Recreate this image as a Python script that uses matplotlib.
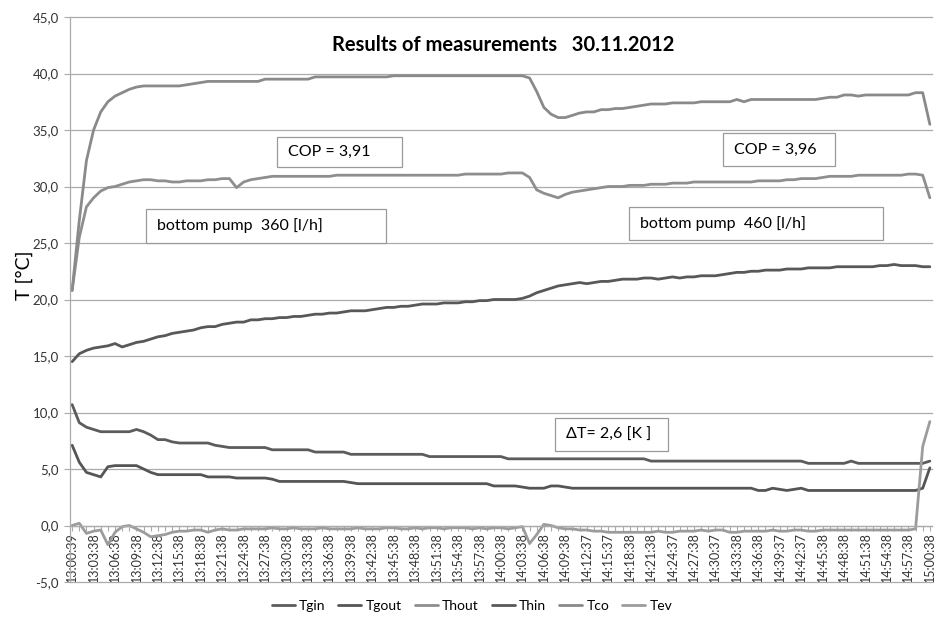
import matplotlib.pyplot as plt
from matplotlib.patches import Rectangle
from matplotlib.ticker import FuncFormatter

plt.rcParams['font.family'] = ['Lato', 'DejaVu Sans']

W, H = 935, 618

# one reading per minute, 13:00:39 .. 15:00:38; axis labelled every 3rd reading
time_labels = [
    '13:00:39', '13:03:38', '13:06:38', '13:09:38', '13:12:38', '13:15:38',
    '13:18:38', '13:21:38', '13:24:38', '13:27:38', '13:30:38', '13:33:38',
    '13:36:38', '13:39:38', '13:42:38', '13:45:38', '13:48:38', '13:51:38',
    '13:54:38', '13:57:38', '14:00:38', '14:03:38', '14:06:38', '14:09:38',
    '14:12:37', '14:15:37', '14:18:38', '14:21:38', '14:24:37', '14:27:38',
    '14:30:37', '14:33:38', '14:36:38', '14:39:37', '14:42:37', '14:45:38',
    '14:48:38', '14:51:38', '14:54:38', '14:57:38', '15:00:38',
]

Tgin = [
    10.7, 9.1, 8.7, 8.5, 8.3, 8.3, 8.3, 8.3, 8.3, 8.5,
    8.3, 8.0, 7.6, 7.6, 7.4, 7.3, 7.3, 7.3, 7.3, 7.3,
    7.1, 7.0, 6.9, 6.9, 6.9, 6.9, 6.9, 6.9, 6.7, 6.7,
    6.7, 6.7, 6.7, 6.7, 6.5, 6.5, 6.5, 6.5, 6.5, 6.3,
    6.3, 6.3, 6.3, 6.3, 6.3, 6.3, 6.3, 6.3, 6.3, 6.3,
    6.1, 6.1, 6.1, 6.1, 6.1, 6.1, 6.1, 6.1, 6.1, 6.1,
    6.1, 5.9, 5.9, 5.9, 5.9, 5.9, 5.9, 5.9, 5.9, 5.9,
    5.9, 5.9, 5.9, 5.9, 5.9, 5.9, 5.9, 5.9, 5.9, 5.9,
    5.9, 5.7, 5.7, 5.7, 5.7, 5.7, 5.7, 5.7, 5.7, 5.7,
    5.7, 5.7, 5.7, 5.7, 5.7, 5.7, 5.7, 5.7, 5.7, 5.7,
    5.7, 5.7, 5.7, 5.5, 5.5, 5.5, 5.5, 5.5, 5.5, 5.7,
    5.5, 5.5, 5.5, 5.5, 5.5, 5.5, 5.5, 5.5, 5.5, 5.5,
    5.7,
]

Tgout = [
    7.1, 5.6, 4.7, 4.5, 4.3, 5.2, 5.3, 5.3, 5.3, 5.3,
    5.0, 4.7, 4.5, 4.5, 4.5, 4.5, 4.5, 4.5, 4.5, 4.3,
    4.3, 4.3, 4.3, 4.2, 4.2, 4.2, 4.2, 4.2, 4.1, 3.9,
    3.9, 3.9, 3.9, 3.9, 3.9, 3.9, 3.9, 3.9, 3.9, 3.8,
    3.7, 3.7, 3.7, 3.7, 3.7, 3.7, 3.7, 3.7, 3.7, 3.7,
    3.7, 3.7, 3.7, 3.7, 3.7, 3.7, 3.7, 3.7, 3.7, 3.5,
    3.5, 3.5, 3.5, 3.4, 3.3, 3.3, 3.3, 3.5, 3.5, 3.4,
    3.3, 3.3, 3.3, 3.3, 3.3, 3.3, 3.3, 3.3, 3.3, 3.3,
    3.3, 3.3, 3.3, 3.3, 3.3, 3.3, 3.3, 3.3, 3.3, 3.3,
    3.3, 3.3, 3.3, 3.3, 3.3, 3.3, 3.1, 3.1, 3.3, 3.2,
    3.1, 3.2, 3.3, 3.1, 3.1, 3.1, 3.1, 3.1, 3.1, 3.1,
    3.1, 3.1, 3.1, 3.1, 3.1, 3.1, 3.1, 3.1, 3.1, 3.3,
    5.1,
]

Thout = [
    20.8, 25.5, 28.2, 29.0, 29.6, 29.9, 30.0, 30.2, 30.4, 30.5,
    30.6, 30.6, 30.5, 30.5, 30.4, 30.4, 30.5, 30.5, 30.5, 30.6,
    30.6, 30.7, 30.7, 29.9, 30.4, 30.6, 30.7, 30.8, 30.9, 30.9,
    30.9, 30.9, 30.9, 30.9, 30.9, 30.9, 30.9, 31.0, 31.0, 31.0,
    31.0, 31.0, 31.0, 31.0, 31.0, 31.0, 31.0, 31.0, 31.0, 31.0,
    31.0, 31.0, 31.0, 31.0, 31.0, 31.1, 31.1, 31.1, 31.1, 31.1,
    31.1, 31.2, 31.2, 31.2, 30.8, 29.7, 29.4, 29.2, 29.0, 29.3,
    29.5, 29.6, 29.7, 29.8, 29.9, 30.0, 30.0, 30.0, 30.1, 30.1,
    30.1, 30.2, 30.2, 30.2, 30.3, 30.3, 30.3, 30.4, 30.4, 30.4,
    30.4, 30.4, 30.4, 30.4, 30.4, 30.4, 30.5, 30.5, 30.5, 30.5,
    30.6, 30.6, 30.7, 30.7, 30.7, 30.8, 30.9, 30.9, 30.9, 30.9,
    31.0, 31.0, 31.0, 31.0, 31.0, 31.0, 31.0, 31.1, 31.1, 31.0,
    29.0,
]

Thin = [
    14.5, 15.2, 15.5, 15.7, 15.8, 15.9, 16.1, 15.8, 16.0, 16.2,
    16.3, 16.5, 16.7, 16.8, 17.0, 17.1, 17.2, 17.3, 17.5, 17.6,
    17.6, 17.8, 17.9, 18.0, 18.0, 18.2, 18.2, 18.3, 18.3, 18.4,
    18.4, 18.5, 18.5, 18.6, 18.7, 18.7, 18.8, 18.8, 18.9, 19.0,
    19.0, 19.0, 19.1, 19.2, 19.3, 19.3, 19.4, 19.4, 19.5, 19.6,
    19.6, 19.6, 19.7, 19.7, 19.7, 19.8, 19.8, 19.9, 19.9, 20.0,
    20.0, 20.0, 20.0, 20.1, 20.3, 20.6, 20.8, 21.0, 21.2, 21.3,
    21.4, 21.5, 21.4, 21.5, 21.6, 21.6, 21.7, 21.8, 21.8, 21.8,
    21.9, 21.9, 21.8, 21.9, 22.0, 21.9, 22.0, 22.0, 22.1, 22.1,
    22.1, 22.2, 22.3, 22.4, 22.4, 22.5, 22.5, 22.6, 22.6, 22.6,
    22.7, 22.7, 22.7, 22.8, 22.8, 22.8, 22.8, 22.9, 22.9, 22.9,
    22.9, 22.9, 22.9, 23.0, 23.0, 23.1, 23.0, 23.0, 23.0, 22.9,
    22.9,
]

Tco = [
    20.8, 27.0, 32.3, 35.0, 36.6, 37.5, 38.0, 38.3, 38.6, 38.8,
    38.9, 38.9, 38.9, 38.9, 38.9, 38.9, 39.0, 39.1, 39.2, 39.3,
    39.3, 39.3, 39.3, 39.3, 39.3, 39.3, 39.3, 39.5, 39.5, 39.5,
    39.5, 39.5, 39.5, 39.5, 39.7, 39.7, 39.7, 39.7, 39.7, 39.7,
    39.7, 39.7, 39.7, 39.7, 39.7, 39.8, 39.8, 39.8, 39.8, 39.8,
    39.8, 39.8, 39.8, 39.8, 39.8, 39.8, 39.8, 39.8, 39.8, 39.8,
    39.8, 39.8, 39.8, 39.8, 39.6, 38.4, 37.0, 36.4, 36.1, 36.1,
    36.3, 36.5, 36.6, 36.6, 36.8, 36.8, 36.9, 36.9, 37.0, 37.1,
    37.2, 37.3, 37.3, 37.3, 37.4, 37.4, 37.4, 37.4, 37.5, 37.5,
    37.5, 37.5, 37.5, 37.7, 37.5, 37.7, 37.7, 37.7, 37.7, 37.7,
    37.7, 37.7, 37.7, 37.7, 37.7, 37.8, 37.9, 37.9, 38.1, 38.1,
    38.0, 38.1, 38.1, 38.1, 38.1, 38.1, 38.1, 38.1, 38.3, 38.3,
    35.5,
]

Tev = [
    0.0, 0.2, -0.7, -0.5, -0.4, -1.7, -0.6, -0.1, 0.0, -0.3,
    -0.6, -1.0, -0.9, -0.8, -0.6, -0.5, -0.5, -0.4, -0.4, -0.6,
    -0.4, -0.3, -0.4, -0.4, -0.3, -0.3, -0.3, -0.3, -0.2, -0.3,
    -0.3, -0.2, -0.3, -0.3, -0.3, -0.2, -0.3, -0.3, -0.3, -0.3,
    -0.2, -0.3, -0.3, -0.3, -0.2, -0.2, -0.3, -0.3, -0.2, -0.3,
    -0.2, -0.2, -0.3, -0.2, -0.2, -0.2, -0.3, -0.2, -0.3, -0.2,
    -0.2, -0.3, -0.2, -0.1, -1.6, -0.8, 0.1, 0.0, -0.2, -0.3,
    -0.3, -0.4, -0.4, -0.5, -0.5, -0.6, -0.6, -0.6, -0.6, -0.6,
    -0.6, -0.6, -0.5, -0.6, -0.6, -0.5, -0.5, -0.5, -0.4, -0.5,
    -0.4, -0.4, -0.6, -0.6, -0.5, -0.5, -0.5, -0.5, -0.4, -0.5,
    -0.5, -0.4, -0.4, -0.5, -0.5, -0.4, -0.4, -0.4, -0.4, -0.4,
    -0.4, -0.4, -0.4, -0.4, -0.4, -0.4, -0.4, -0.4, -0.3, 7.0,
    9.2,
]

series = [
    ('Tgin', Tgin, '#5c5c5c'),
    ('Tgout', Tgout, '#555555'),
    ('Thout', Thout, '#8e8e8e'),
    ('Thin', Thin, '#585858'),
    ('Tco', Tco, '#8a8a8a'),
    ('Tev', Tev, '#9c9c9c'),
]

GRID = '#ababab'

fig = plt.figure(figsize=(W / 100, H / 100), dpi=100)
ax = fig.add_axes([70 / W, 36 / H, 862 / W, 565 / H])

# category axis sits on the 0 line (set before ticks, it resets them)
ax.spines['bottom'].set_position(('data', 0))
for s in ('top', 'right'):
    ax.spines[s].set_visible(False)
for s in ('left', 'bottom'):
    ax.spines[s].set_color(GRID)
    ax.spines[s].set_linewidth(0.9)

x = list(range(len(Tco)))
for name, vals, col in series:
    ax.plot(x, vals, color=col, lw=2.0, label=name,
            solid_joinstyle='round', solid_capstyle='round')

ax.set_xlim(-0.3, 120.3)
ax.set_ylim(-5, 45)
ax.set_yticks(range(-5, 50, 5))
ax.yaxis.set_major_formatter(FuncFormatter(lambda v, p: f'{v:.1f}'.replace('.', ',')))
ax.yaxis.grid(True, color=GRID, lw=0.9)
ax.set_axisbelow(True)
for gl in ax.get_ygridlines():
    gl.set_clip_on(False)

# a tick per reading, label on every third
ax.set_xticks(x)
ax.set_xticklabels([time_labels[i // 3] if i % 3 == 0 else '' for i in x])
ax.tick_params(axis='x', length=3.5, color=GRID, pad=1.5, labelrotation=90,
               labelsize=9, labelcolor='#333333')
ax.tick_params(axis='y', length=4, color=GRID, labelsize=9.5, labelcolor='#333333', pad=4)

fig.text(503 / W, 1 - 45 / H, 'Results of measurements   30.11.2012',
         ha='center', va='center', fontsize=14.5, fontweight='bold')
fig.text(24 / W, 1 - 275 / H, 'T [°C]', rotation=90, ha='center', va='center',
         fontsize=14)

# boxed notes: text, left, top, right, bottom in pixels
notes = [
    ('COP = 3,91', 277, 137, 402, 167),
    ('COP = 3,96', 723, 133, 835, 166),
    ('bottom pump  360 [l/h]', 146, 209, 386, 243),
    ('bottom pump  460 [l/h]', 629, 207, 883, 240),
    ('ΔT= 2,6 [K ]', 555, 418, 668, 451),
]
for txt, x0, y0, x1, y1 in notes:
    fig.add_artist(Rectangle((x0 / W, 1 - y1 / H), (x1 - x0) / W, (y1 - y0) / H,
                             transform=fig.transFigure, facecolor='white',
                             edgecolor='#9a9a9a', lw=0.9, zorder=5))
    fig.text((x0 + 11) / W, 1 - (y0 + y1) / 2 / H, txt, ha='left', va='center',
             fontsize=11.5, zorder=6)

fig.legend(loc='center', bbox_to_anchor=(472 / W, 1 - 606 / H), ncol=6,
           frameon=False, fontsize=10, handlelength=1.65, handletextpad=0.3,
           columnspacing=0.95)

fig.savefig('out.png', dpi=100)
